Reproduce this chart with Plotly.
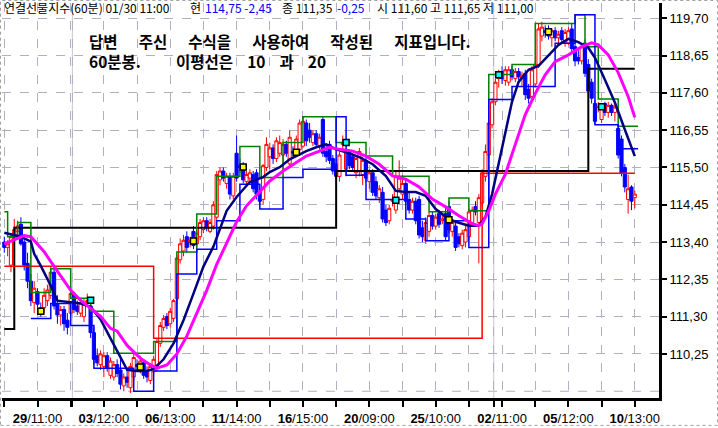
import plotly.graph_objects as go

# ---------------- data ----------------
open_ = [113.40,113.25,112.75,113.55,113.70,113.90,113.40,112.80,112.30,111.70,
         112.00,111.55,111.55,111.75,111.90,112.55,111.65,111.35,111.50,111.20,
         111.40,111.90,111.60,111.40,111.30,111.70,111.60,110.85,110.20,109.95,
         109.90,110.20,109.65,109.60,109.95,109.80,109.35,109.60,109.30,109.60,
         109.95,109.80,110.00,109.75,109.50,109.75,109.85,110.55,111.00,111.30,
         111.10,111.25,111.80,112.90,113.15,113.55,113.40,113.70,113.35,113.55,
         113.75,114.00,113.70,113.85,114.10,115.15,115.40,115.05,115.25,114.70,
         115.90,115.55,115.55,115.10,115.20,115.30,115.35,114.80,114.60,115.50,
         115.80,116.05,115.75,115.90,115.85,116.15,115.60,115.95,115.95,116.00,
         116.10,116.75,116.55,116.20,116.45,116.10,116.85,115.95,116.15,115.75,
         115.60,115.25,116.15,115.45,115.95,115.80,115.35,115.40,115.30,115.70,
         115.10,115.35,115.10,114.65,114.80,114.30,114.00,114.55,114.30,114.90,
         114.75,115.05,114.60,114.30,114.55,114.60,113.80,113.45,113.70,114.15,
         113.85,114.20,114.00,114.20,114.40,113.70,113.85,113.55,113.30,113.40,
         113.55,113.95,114.40,113.95,114.50,115.25,115.85,116.70,117.35,118.00,
         118.20,117.95,117.90,118.25,118.00,118.20,118.00,118.15,117.70,117.50,
         117.85,118.40,119.20,119.35,119.40,119.15,119.35,119.15,119.35,119.05,
         119.00,119.40,118.90,118.60,118.50,119.00,118.40,117.90,117.30,117.20,
         116.85,117.30,117.05,117.25,117.05,116.60,116.30,115.50,114.60,114.95,
         114.65]
high = [113.55,113.45,113.60,114.05,114.00,114.10,113.60,113.10,112.50,112.30,
        112.10,111.70,112.10,112.20,112.70,112.70,111.90,111.60,111.60,111.40,
        112.15,112.00,111.75,111.80,111.80,111.95,111.70,111.00,110.40,110.35,
        110.30,110.30,110.15,110.05,110.10,110.10,109.70,109.80,110.00,110.35,
        110.10,110.20,110.10,109.90,110.00,110.20,110.70,111.15,111.35,111.40,
        111.55,111.80,113.05,113.50,113.60,113.70,113.55,113.85,113.75,114.05,
        114.10,114.10,114.05,114.55,115.40,115.50,115.50,115.35,115.35,115.35,
        116.40,115.75,115.65,115.40,115.45,115.40,115.45,114.90,115.60,116.35,
        116.20,116.15,116.35,116.40,116.30,116.25,116.55,116.10,116.40,116.85,
        116.95,116.85,116.75,116.55,116.55,116.45,116.95,116.15,116.25,115.85,
        115.75,115.95,116.40,116.05,116.00,115.90,115.85,116.05,115.80,115.80,
        115.45,115.45,115.25,115.00,114.95,114.45,114.45,114.75,115.40,115.70,
        115.30,115.15,114.80,114.65,114.65,114.70,114.00,114.10,114.25,114.25,
        114.20,114.30,114.15,114.40,114.55,114.05,113.95,113.65,113.75,113.85,
        114.35,114.40,114.55,114.75,115.45,116.15,116.85,117.45,118.00,118.25,
        118.35,118.35,118.35,118.35,118.30,118.30,118.20,118.25,117.85,118.35,
        118.50,119.55,119.60,119.50,119.50,119.40,119.45,119.35,119.45,119.40,
        119.45,119.55,119.00,118.80,119.00,119.10,118.55,118.00,117.40,117.35,
        117.30,117.35,117.35,117.30,117.30,116.70,116.40,115.60,115.30,115.00,
        114.85]
low = [113.10,113.00,112.55,113.45,113.55,113.30,112.60,112.10,111.60,111.40,
       111.55,111.30,111.40,111.60,111.80,111.50,111.10,111.05,110.90,110.80,
       111.30,111.40,111.35,111.30,111.15,111.60,110.70,109.95,109.90,109.80,
       109.60,109.75,109.55,109.50,109.60,109.25,109.20,109.30,109.15,109.50,
       109.80,109.70,109.55,109.45,109.40,109.65,109.75,110.45,110.90,110.95,
       111.00,111.15,111.70,112.80,113.00,113.10,113.25,113.20,113.25,113.45,
       113.65,113.70,113.65,113.75,114.00,115.00,115.10,114.90,114.60,114.60,
       115.10,115.35,115.05,115.00,115.05,114.80,114.60,114.45,114.45,115.40,
       115.45,115.60,115.65,115.80,115.45,115.80,115.50,115.80,115.85,115.90,
       116.05,116.10,116.20,116.10,116.05,116.00,115.80,115.65,115.60,115.30,
       115.15,115.10,116.00,115.25,115.45,115.40,115.20,115.25,115.00,115.10,
       114.90,114.70,114.60,114.50,113.95,113.85,113.90,114.40,114.20,114.80,
       114.60,114.45,114.20,114.20,113.90,113.50,113.40,113.35,113.55,113.75,
       113.75,113.80,113.90,113.45,113.65,113.55,113.15,113.25,113.20,113.25,
       113.45,113.85,114.15,112.80,114.40,115.10,115.75,116.60,117.25,117.75,
       117.85,117.80,117.80,117.95,117.90,117.95,117.80,117.40,117.30,117.40,
       117.75,118.30,119.05,119.15,119.10,118.90,119.05,119.00,119.00,118.90,
       118.95,118.75,118.35,118.40,118.40,118.05,117.55,117.30,116.70,117.05,
       116.75,116.95,116.90,116.95,116.80,115.75,115.25,114.80,114.20,114.30,
       114.35]
close = [113.25,113.35,113.55,113.75,113.85,113.35,112.75,112.30,111.75,112.10,
         111.65,111.50,111.90,112.05,112.55,111.60,111.35,111.50,111.10,111.00,
         111.95,111.50,111.45,111.70,111.65,111.75,110.85,110.10,110.00,110.25,
         110.20,109.85,110.05,109.95,109.70,109.40,109.60,109.45,109.90,110.15,
         109.90,110.05,109.65,109.60,109.90,110.10,110.60,111.05,111.25,111.05,
         111.45,111.75,112.95,113.35,113.45,113.25,113.45,113.30,113.65,113.95,
         114.00,113.80,113.95,114.45,115.30,115.40,115.20,115.25,114.75,115.25,
         115.20,115.50,115.15,115.30,115.35,114.90,114.75,114.55,115.55,116.15,
         116.05,115.75,116.25,116.20,116.15,115.90,116.35,115.90,116.30,116.75,
         116.80,116.25,116.35,116.45,116.15,116.35,115.90,115.80,115.70,115.40,
         115.25,115.85,116.20,115.95,115.55,115.50,115.75,115.95,115.70,115.20,
         115.35,114.80,114.70,114.90,114.05,113.95,114.35,114.60,115.25,115.20,
         115.05,114.55,114.30,114.55,114.00,113.60,113.55,113.95,114.15,113.85,
         114.10,113.90,114.05,113.55,113.75,113.95,113.25,113.35,113.65,113.75,
         114.25,114.30,114.25,114.65,115.35,115.95,116.75,117.35,117.90,118.10,
         118.00,118.25,118.25,118.05,118.20,118.05,118.10,117.55,117.45,118.25,
         118.40,119.40,119.45,119.30,119.20,119.35,119.15,119.25,119.10,119.30,
         119.35,118.85,118.50,118.50,118.90,118.15,117.65,117.45,116.80,117.20,
         117.20,117.05,117.25,117.05,117.20,115.85,115.35,114.95,114.90,114.55,
         114.75]

# moving averages (10 and 20 bars) read at sampled bars
ma10_bars = [0, 5, 8, 9, 11, 14, 16, 19, 23, 26, 29, 32, 35, 37, 40, 43, 45, 48, 51, 54,
             57, 60, 63, 65, 67, 70, 74, 78, 80, 83, 86, 91, 94, 97, 100, 103, 107, 111,
             115, 118, 121, 124, 127, 130, 133, 136, 140, 143, 145, 147, 149, 151, 153,
             155, 158, 161, 164, 167, 170, 173, 176, 178, 181, 184, 187, 190]
ma10_vals = [113.66, 113.55, 113.41, 113.07, 112.73, 112.17, 111.75, 111.72, 111.67, 111.58,
             111.22, 110.69, 110.13, 109.80, 109.77, 109.77, 109.83, 110.10, 110.55, 111.20,
             111.95, 112.71, 113.27, 113.77, 114.28, 114.67, 115.09, 115.23, 115.37, 115.51,
             115.73, 115.96, 116.07, 116.15, 116.01, 115.93, 115.79, 115.59, 115.26, 114.84,
             114.81, 114.81, 114.70, 114.33, 114.11, 113.97, 113.86, 113.86, 114.11, 114.75,
             115.59, 116.51, 117.35, 117.91, 118.25, 118.36, 118.67, 118.95, 119.12, 119.03,
             118.87, 118.59, 117.97, 117.33, 116.57, 115.82]
ma20_bars = [0, 6, 8, 10, 12, 14, 16, 18, 20, 23, 26, 29, 32, 34, 37, 41, 44, 46, 49, 52,
             55, 58, 61, 64, 67, 70, 73, 77, 80, 84, 87, 91, 95, 98, 101, 105, 109, 113,
             117, 121, 125, 129, 133, 137, 141, 143, 144, 146, 148, 151, 154, 157, 160,
             163, 166, 170, 174, 177, 179, 182, 185, 188, 190]
ma20_vals = [113.35, 113.58, 113.55, 113.35, 113.13, 112.85, 112.57, 112.32, 112.04, 111.76,
             111.53, 111.31, 110.97, 110.89, 110.49, 110.13, 109.94, 109.85, 109.94, 110.25,
             110.75, 111.40, 112.04, 112.77, 113.35, 113.97, 114.42, 114.81, 115.12, 115.40,
             115.59, 115.82, 115.96, 116.07, 116.01, 115.96, 115.82, 115.59, 115.26, 115.17,
             114.95, 114.61, 114.39, 114.14, 113.92, 113.86, 113.92, 114.28, 114.75, 115.31,
             116.15, 116.99, 117.58, 118.11, 118.48, 118.67, 118.90, 119.01, 118.95, 118.67,
             118.17, 117.50, 116.91]

# box indicator: upper (green) and lower (blue) step levels, start bar of each level
green_bars = [0, 1, 4, 8, 14, 20, 26, 33, 45, 52, 58, 64, 71, 77, 84, 90, 100, 109, 117,
              128, 134, 140, 146, 153, 160, 172, 175, 179, 185, 191]
green_vals = [114.25, 113.55, 113.95, 111.98, 112.65, 111.82, 111.45, 110.27, 110.60, 113.12,
              114.19, 115.25, 116.09, 115.22, 116.20, 116.93, 116.20, 115.82, 115.25, 114.25,
              114.64, 114.28, 118.12, 118.40, 119.55, 119.80, 118.90, 117.43, 116.66, 116.66]
blue_bars = [8, 14, 20, 27, 39, 45, 52, 58, 64, 71, 77, 84, 90, 100, 103, 109, 121, 127,
             134, 140, 146, 153, 166, 172, 178, 185, 191]
blue_vals = [111.25, 111.67, 111.05, 109.85, 109.20, 109.77, 112.50, 113.20, 114.00, 115.03,
             114.33, 115.22, 115.45, 116.93, 115.28, 114.60, 114.05, 113.44, 114.00, 113.25,
             117.41, 117.78, 119.00, 119.80, 116.70, 116.03, 116.03]

# reference levels (step lines)
black_bars = [0, 3, 100, 176, 190]
black_vals = [110.95, 113.80, 115.40, 118.28, 118.28]
red_bars = [0, 45, 144, 190]
red_vals = [112.72, 110.69, 115.34, 115.34]

# signal squares
signal_bars = [11, 26, 41, 57, 72, 88, 103, 118, 134, 149, 164, 180]
signal_vals = [111.45, 111.76, 109.88, 113.43, 115.51, 115.93, 116.20, 114.58, 114.03, 118.11, 119.32, 117.21]
signal_kind = ['Y', 'C', 'Y', 'Y', 'Y', 'Y', 'C', 'C', 'Y', 'C', 'Y', 'C']

# axes
x_label_bars = [10, 30, 50, 70, 90, 110, 130, 150, 170, 190]
x_labels = ["29/11:00", "03/12:00", "06/13:00", "11/14:00", "16/15:00",
            "20/09:00", "25/10:00", "02/11:00", "05/12:00", "10/13:00"]
x_minor_bars = [0, 20, 40, 60, 80, 100, 120, 140, 160, 180]
month_start_bars = [21, 148]
y_tick_vals = [110.25, 111.30, 112.35, 113.40, 114.45, 115.50, 116.55, 117.60, 118.65, 119.70]
y_tick_text = ["110,25", "111,30", "112,35", "113,40", "114,45",
               "115,50", "116,55", "117,60", "118,65", "119,70"]
y_extra_grid = [109.20]

header_name = "연결선물지수(60분) 01/30 11:00"
header_cur_lbl = "현"
header_cur = "114,75 -2,45"
header_prev = "종 111,35"
header_prev_chg = "-0,25"
header_ohl = "시 111,60 고 111,65 저 111,00"
note_line1 = "답변 주신 수식을 사용하여 작성된 지표입니다."
note_line2a = "60분봉."
note_line2b = "이평선은 10 과 20"

# ---------------- figure ----------------
bars = list(range(len(close)))
fig = go.Figure()

fig.add_trace(go.Scatter(x=black_bars, y=black_vals, mode="lines",
                         line=dict(color="black", width=2, shape="hv"), hoverinfo="skip"))
fig.add_trace(go.Scatter(x=red_bars, y=red_vals, mode="lines",
                         line=dict(color="#FF0000", width=1.5, shape="hv"), hoverinfo="skip"))
fig.add_trace(go.Scatter(x=green_bars, y=green_vals, mode="lines",
                         line=dict(color="#008000", width=1.5, shape="hv"), hoverinfo="skip"))
fig.add_trace(go.Scatter(x=blue_bars, y=blue_vals, mode="lines",
                         line=dict(color="#0000FF", width=1.5, shape="hv"), hoverinfo="skip"))

fig.add_trace(go.Candlestick(
    x=bars, open=open_, high=high, low=low, close=close,
    increasing=dict(line=dict(color="#FF0000", width=1), fillcolor="white"),
    decreasing=dict(line=dict(color="#0000FF", width=1), fillcolor="#0000FF"),
    whiskerwidth=0, hoverinfo="skip"))

fig.add_trace(go.Scatter(x=ma10_bars, y=ma10_vals, mode="lines",
                         line=dict(color="#000080", width=2.5), hoverinfo="skip"))
fig.add_trace(go.Scatter(x=ma20_bars, y=ma20_vals, mode="lines",
                         line=dict(color="#FF00FF", width=3), hoverinfo="skip"))

sig_colors = ["#FFFF00" if k == "Y" else "#00FFFF" for k in signal_kind]
fig.add_trace(go.Scatter(x=signal_bars, y=signal_vals, mode="markers",
                         marker=dict(symbol="square", size=6, color=sig_colors,
                                     line=dict(color="black", width=1.5)),
                         hoverinfo="skip"))

tickvals = []
ticktext = []
for b in sorted(x_minor_bars + x_label_bars):
    tickvals.append(b)
    if b in x_label_bars:
        lab = x_labels[x_label_bars.index(b)]
        d, t = lab.split("/", 1)
        ticktext.append("<b>" + d + "</b>/" + t)
    else:
        ticktext.append("")
for m in month_start_bars:
    tickvals.append(m - 0.5)
    ticktext.append("")

grid_col = "#B4AEC4"
tick_font = dict(family="Liberation Sans, Arial, sans-serif", size=13, color="black")

fig.update_layout(
    width=718, height=428,
    margin=dict(l=2, r=59, t=3, b=28),
    paper_bgcolor="white", plot_bgcolor="white",
    showlegend=False,
    boxgap=0.05, boxgroupgap=0,
    xaxis=dict(range=[-0.7, 197.3], rangeslider=dict(visible=False),
               tickmode="array", tickvals=tickvals, ticktext=ticktext,
               ticks="outside", ticklen=6, tickwidth=1.5, tickcolor="black",
               showline=True, linecolor="black", linewidth=3,
               showgrid=True, gridcolor=grid_col, griddash="dash", gridwidth=1,
               zeroline=False, tickfont=tick_font, fixedrange=True),
    yaxis=dict(side="right", range=[109.01, 120.13],
               tickmode="array", tickvals=y_tick_vals, ticktext=y_tick_text,
               ticks="outside", ticklen=5, tickwidth=1.5, tickcolor="black",
               showline=True, linecolor="black", linewidth=3,
               showgrid=True, gridcolor=grid_col, griddash="dash", gridwidth=1,
               zeroline=False, tickfont=tick_font, fixedrange=True),
)

shapes = []
for g in y_extra_grid:
    shapes.append(dict(type="line", xref="paper", yref="y", x0=0, x1=1, y0=g, y1=g,
                       line=dict(color=grid_col, width=1, dash="dash"), layer="below"))
for m in month_start_bars:
    shapes.append(dict(type="line", xref="x", yref="paper", x0=m - 0.5, x1=m - 0.5, y0=0, y1=1,
                       line=dict(color="#C8C8C8", width=1), layer="below"))
shapes.append(dict(type="rect", xref="paper", yref="paper",
                   x0=-0.0023, x1=1.0890, y0=-0.0693, y1=1.0063,
                   line=dict(color="#A0A0A0", width=1, dash="dot")))
fig.update_layout(shapes=shapes)


def px_x(px):
    return (px - 2) / 657.0


def px_y(py):
    return (400 - py) / 397.0


hdr_font = dict(family="Noto Sans CJK KR, sans-serif", size=12, color="black")
blue_font = dict(family="Noto Sans CJK KR, sans-serif", size=12, color="#0000FF")
ann = []
for txt, xp, f in [(header_name, 2, hdr_font), (header_cur_lbl, 188, hdr_font),
                   (header_cur, 203, blue_font), (header_prev, 280, hdr_font),
                   (header_prev_chg, 335, blue_font), (header_ohl, 375, hdr_font)]:
    ann.append(dict(text=txt, xref="paper", yref="paper", x=px_x(xp), y=px_y(8),
                    xanchor="left", yanchor="middle", showarrow=False, font=f))

note_font = dict(family="Noto Sans CJK KR, sans-serif", size=15.5, color="black")
nb = "\u00a0"
note_text = ("<b>" + note_line1.replace(" ", nb * 6) + "<br>" + note_line2a + nb * 10
             + note_line2b.replace(" ", nb * 4) + "</b>")
ann.append(dict(text=note_text, xref="paper", yref="paper", align="left",
                x=px_x(87), y=px_y(51), xanchor="left", yanchor="middle",
                showarrow=False, font=note_font))
fig.update_layout(annotations=ann)

fig.write_html("out.html", config={"displayModeBar": False},
               post_script="document.body.style.margin='0px';")
